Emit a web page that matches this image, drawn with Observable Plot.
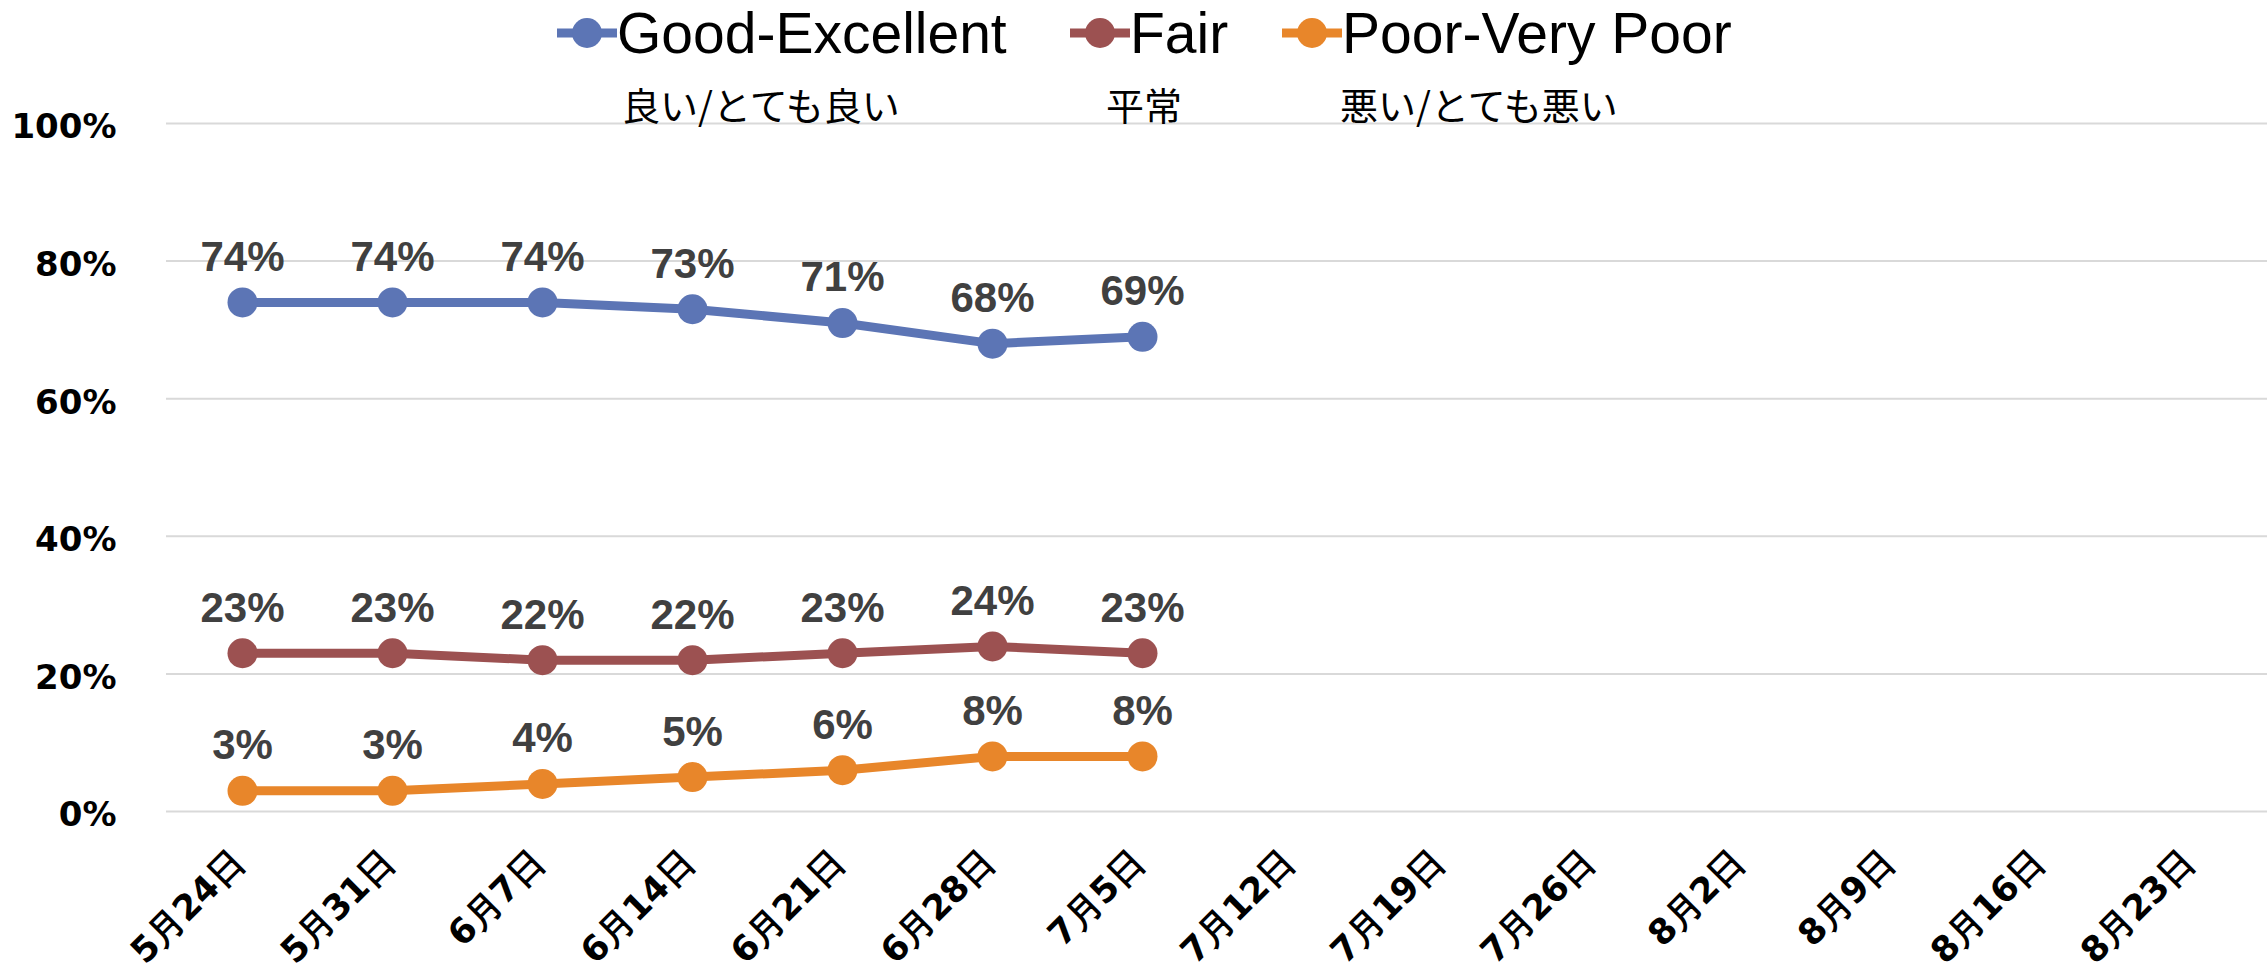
<!DOCTYPE html>
<html>
<head>
<meta charset="utf-8">
<script src="https://cdn.jsdelivr.net/npm/d3@7"></script>
<script src="https://cdn.jsdelivr.net/npm/@observablehq/plot@0.6"></script>
<style>
  html, body { margin: 0; padding: 0; background: #fff; }
  #header { position: relative; height: 100px; z-index: 1; width: 2267px; }
  .item { position: absolute; top: 0; height: 66px; display: flex; align-items: center; }
  .item span { font-family: "Liberation Sans", Arial, sans-serif; font-size: 57px; color: #000; line-height: 66px; }
  .ja { position: absolute; top: 83px; font-family: "Noto Sans CJK JP", sans-serif; font-size: 38px; line-height: 42px; color: #000; white-space: nowrap; }
  #chart svg { display: block; }
</style>
</head>
<body>
<div id="header"></div>
<div id="chart"></div>
<script>
// ---- data ----
const dates = ["5月24日", "5月31日", "6月7日", "6月14日", "6月21日", "6月28日", "7月5日",
               "7月12日", "7月19日", "7月26日", "8月2日", "8月9日", "8月16日", "8月23日"];
const seriesNames = ["Good-Excellent", "Fair", "Poor-Very Poor"];
const seriesJa = ["良い/とても良い", "平常", "悪い/とても悪い"];
const seriesColors = ["#5C75B5", "#9C5151", "#E8862A"];
const goodExcellent = [74, 74, 74, 73, 71, 68, 69];
const fair = [23, 23, 22, 22, 23, 24, 23];
const poorVeryPoor = [3, 3, 4, 5, 6, 8, 8];
const yTicks = [0, 20, 40, 60, 80, 100];

const seriesValues = [goodExcellent, fair, poorVeryPoor];
const rows = [];
seriesNames.forEach((s, i) => {
  seriesValues[i].forEach((v, j) => rows.push({date: dates[j], series: s, value: v}));
});

// ---- header legend ----
const header = document.getElementById("header");
const itemLeft = [557, 1070, 1282];
const jaLeft = [622, 1106, 1340];
seriesNames.forEach((s, i) => {
  const it = document.createElement("div");
  it.className = "item";
  it.style.left = itemLeft[i] + "px";
  it.innerHTML = `<svg width="60" height="40" viewBox="0 0 60 40"><line x1="0" y1="20" x2="60" y2="20" stroke="${seriesColors[i]}" stroke-width="9"/><circle cx="30" cy="20" r="15" fill="${seriesColors[i]}"/></svg><span>${s}</span>`;
  header.appendChild(it);
  const ja = document.createElement("div");
  ja.className = "ja";
  ja.style.left = jaLeft[i] + "px";
  ja.textContent = seriesJa[i];
  header.appendChild(ja);
});

// ---- chart ----
const chart = Plot.plot({
  width: 2267,
  height: 874,
  marginTop: 23,
  marginBottom: 163,
  marginLeft: 166,
  marginRight: 0,
  style: {background: "transparent", overflow: "visible", color: "#000"},
  x: {type: "point", domain: dates, padding: 0.5, label: null},
  y: {domain: [0, 100], label: null},
  color: {domain: seriesNames, range: seriesColors},
  marks: [
    Plot.ruleY(yTicks, {stroke: "#D9D9D9", strokeWidth: 2}),
    Plot.axisY({ticks: yTicks, tickFormat: d => d + "%", tickSize: 0, tickPadding: 50, dy: 4,
                fontSize: 34, fontWeight: "bold", fontFamily: "DejaVu Sans", label: null}),
    Plot.axisX({tickRotate: -45, tickSize: 0, tickPadding: 45, dx: -4,
                fontSize: 35, fontWeight: "bold", fontFamily: "DejaVu Sans", label: null}),
    Plot.line(rows, {x: "date", y: "value", z: "series", stroke: "series", strokeWidth: 9}),
    Plot.dot(rows, {x: "date", y: "value", fill: "series", r: 15}),
    Plot.text(rows, {x: "date", y: "value", text: d => d.value + "%", dy: -45,
                     fontSize: 42, fontWeight: "bold", fill: "#404040", fontFamily: "Liberation Sans"})
  ]
});
document.getElementById("chart").appendChild(chart);
</script>
</body>
</html>
